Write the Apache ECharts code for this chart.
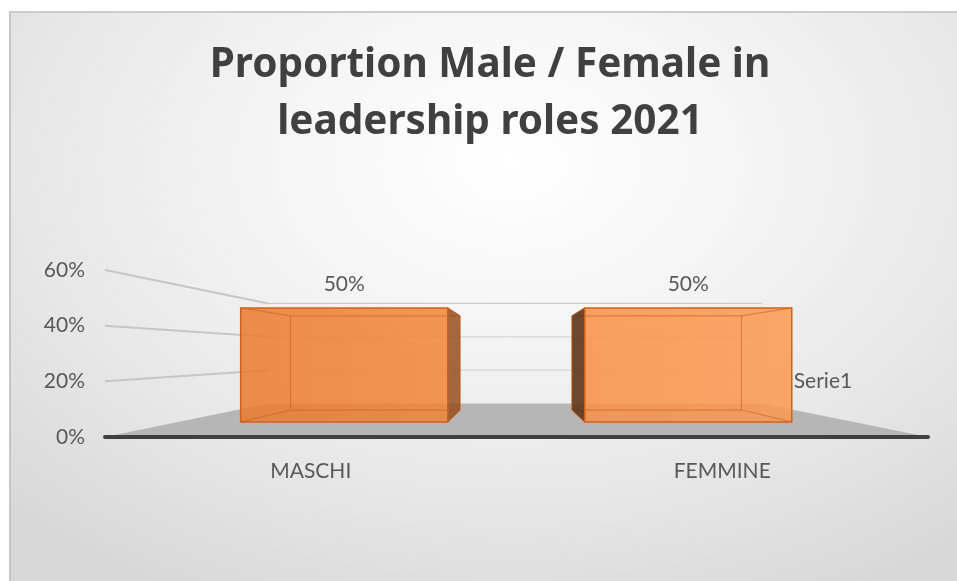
<!DOCTYPE html>
<html>
<head>
<meta charset="utf-8">
<script src="https://cdn.jsdelivr.net/npm/echarts@6/dist/echarts.min.js"></script>
<style>
  html, body { margin: 0; padding: 0; background: #ffffff; }
  #wrap { position: relative; width: 957px; height: 581px; overflow: hidden; }
  #bg { position: absolute; left: 9px; top: 11px; width: 960px; height: 580px;
        border-left: 2px solid #c6c6c6; border-top: 2px solid #cbcbcb;
        background: radial-gradient(ellipse 75% 85% at 52% 26%, #ffffff 0%, #f6f6f6 30%, #e6e6e6 70%, #d7d7d7 100%); }
  #chart { position: absolute; left: 0; top: 0; width: 957px; height: 581px; }
</style>
</head>
<body>
<div id="wrap"><div id="bg"></div><div id="chart"></div></div>
<script>
const titleText = 'Proportion Male / Female in\nleadership roles 2021';
const categories = ['MASCHI', 'FEMMINE'];
const values = [50, 50];
const seriesName = 'Serie1';
const yTicks = [0, 20, 40, 60];
const yMin = 0, yMax = 60, yInterval = 20;

// styles / projection parameters (not data)
const frontColors = [
  ['#ec7a30', '#f0853a'],
  ['#f88f48', '#fa9a52']
];
const sideColors = ['rgba(150,78,30,0.85)', 'rgba(95,52,28,0.9)'];
const WALL = 0.6;                 // depth scale of back wall
const SFX = 0.836, SFY = 0.819;   // bar front face depth scale
const SBX = 0.684, SBY = 0.677;   // bar back face depth scale

const chart = echarts.init(document.getElementById('chart'), null, { renderer: 'canvas' });

function proj(vx, vy, x, y, sx, sy) { return [vx + (x - vx) * sx, vy + (y - vy) * sy]; }

function renderScene(params, api) {
  const cs = params.coordSys;
  const t = api.value(1);
  const vx = cs.x + cs.width * 0.496;
  const vy = api.coord([0, 30])[1];
  const y = api.coord([0, t])[1];
  const xl = cs.x, xr = cs.x + cs.width;
  const bl = proj(vx, vy, xl, y, WALL, WALL), br = proj(vx, vy, xr, y, WALL, WALL);
  const children = [];
  if (t === 0) {
    children.push({ type: 'polygon', shape: { points: [[xl, y], [xr, y], br, bl] },
      style: { fill: '#b6b6b6' } });
  } else {
    children.push({ type: 'line', shape: { x1: xl, y1: y, x2: bl[0], y2: bl[1] },
      style: { stroke: '#c6c6c6', lineWidth: 2 } });
    children.push({ type: 'line', shape: { x1: bl[0], y1: bl[1], x2: br[0], y2: br[1] },
      style: { stroke: t === yMax ? '#c9c9c9' : '#d6d6d6', lineWidth: 1.3 } });
  }
  return { type: 'group', children: children };
}

function renderBar(params, api) {
  const cs = params.coordSys;
  const idx = params.dataIndex;
  const v = api.value(1);
  const base = api.coord([api.value(0), 0]);
  const top = api.coord([api.value(0), v]);
  const band = api.size([1, 0])[0];
  const bw = band * 0.602;
  const vx = cs.x + cs.width * 0.498;
  const vy = api.coord([0, 30])[1];
  const x1 = base[0] - bw / 2, x2 = base[0] + bw / 2, y0 = base[1], y1 = top[1];
  const F = (x, y) => proj(vx, vy, x, y, SFX, SFY);
  const B = (x, y) => proj(vx, vy, x, y, SBX, SBY);
  const FTL = F(x1, y1), FTR = F(x2, y1), FBR = F(x2, y0), FBL = F(x1, y0);
  const BTL = B(x1, y1), BTR = B(x2, y1), BBR = B(x2, y0), BBL = B(x1, y0);
  const cols = frontColors[idx % frontColors.length];
  const edge = 'rgba(205,95,25,0.55)';
  const children = [];
  children.push({ type: 'polygon', shape: { points: [FTL, FTR, FBR, FBL] },
    style: { fill: new echarts.graphic.LinearGradient(0, 0, 1, 0, [
      { offset: 0, color: cols[0] }, { offset: 1, color: cols[1] }]), opacity: 0.86 } });
  const hid = [[BTL, BTR], [BTR, BBR], [BBR, BBL], [BBL, BTL], [FTL, BTL], [FTR, BTR], [FBR, BBR], [FBL, BBL]];
  hid.forEach(function (s) {
    children.push({ type: 'line', shape: { x1: s[0][0], y1: s[0][1], x2: s[1][0], y2: s[1][1] },
      style: { stroke: edge, lineWidth: 1.2 } });
  });
  const side = base[0] < vx ? [FTR, BTR, BBR, FBR] : [FTL, BTL, BBL, FBL];
  children.push({ type: 'polygon', shape: { points: side },
    style: { fill: sideColors[idx % sideColors.length], stroke: 'rgba(190,90,25,0.8)', lineWidth: 1 } });
  children.push({ type: 'polygon', shape: { points: [FTL, FTR, FBR, FBL] },
    style: { fill: 'none', stroke: '#d0621c', lineWidth: 1.5 } });
  children.push({ type: 'text', style: { text: v + '%', x: (FTL[0] + FTR[0]) / 2, y: FTL[1] - 24,
    align: 'center', verticalAlign: 'middle', fill: '#595959', fontSize: 21, fontFamily: 'Lato' } });
  if (idx === values.length - 1) {
    children.push({ type: 'text', style: { text: seriesName, x: FTR[0] + 2,
      y: FTR[1] + (FBR[1] - FTR[1]) * 0.64, align: 'left', verticalAlign: 'middle',
      fill: '#595959', fontSize: 21, fontFamily: 'Lato' } });
  }
  return { type: 'group', children: children };
}

const option = {
  backgroundColor: 'transparent',
  animation: false,
  graphic: [{
    type: 'text', x: 490, y: 37, z: 10,
    style: { text: titleText, align: 'center', verticalAlign: 'top',
      fontFamily: 'Noto Sans', fontWeight: 'bold', fontSize: 40.5, lineHeight: 57, fill: '#404040' }
  }],
  grid: { left: 105, right: 29, top: 270, bottom: 144 },
  xAxis: {
    type: 'category', data: categories, z: 10,
    axisLine: { lineStyle: { color: '#404040', width: 4 } },
    axisTick: { show: false },
    axisLabel: { margin: 24, fontSize: 21, color: '#595959', fontFamily: 'Lato' },
    splitLine: { show: false }
  },
  yAxis: {
    type: 'value', min: yMin, max: yMax, interval: yInterval,
    axisLine: { show: false }, axisTick: { show: false }, splitLine: { show: false },
    axisLabel: { formatter: '{value}%', margin: 20, fontSize: 21, color: '#595959', fontFamily: 'Lato' }
  },
  series: [
    { type: 'custom', name: 'scene', silent: true, z: 1, renderItem: renderScene,
      data: yTicks.map(function (t) { return [0, t]; }) },
    { type: 'custom', name: seriesName, z: 3, renderItem: renderBar,
      data: values.map(function (v, i) { return [i, v]; }) }
  ]
};
chart.setOption(option);
</script>
</body>
</html>
